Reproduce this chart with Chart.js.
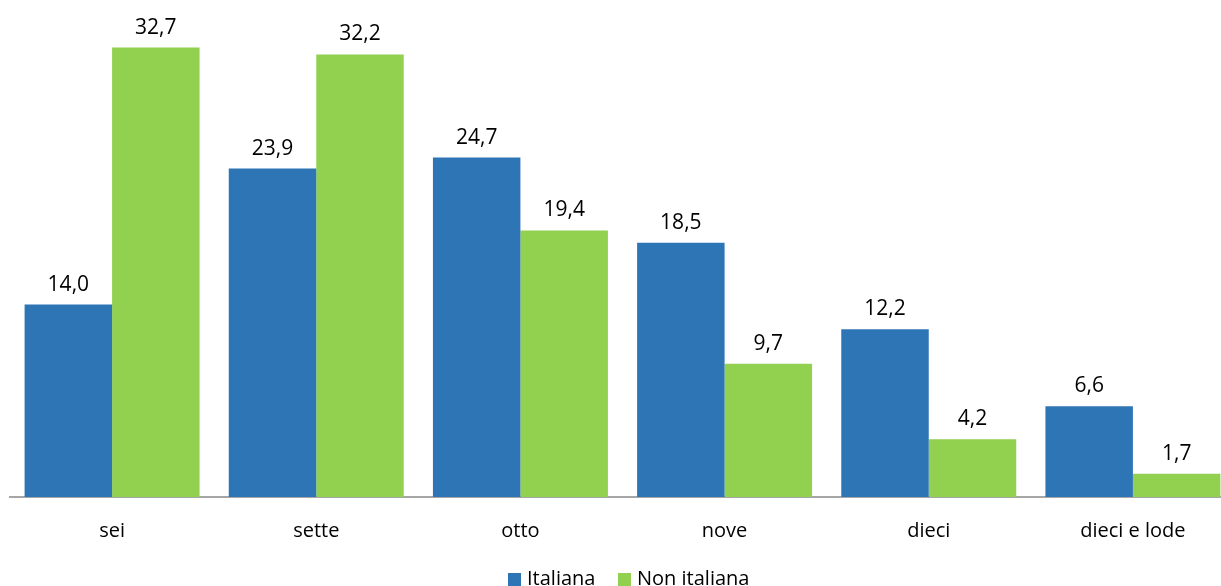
<!DOCTYPE html>
<html>
<head>
<meta charset="utf-8">
<script src="https://cdn.jsdelivr.net/npm/chart.js@4.4.1/dist/chart.umd.min.js"></script>
<style>
  html, body { margin: 0; padding: 0; background: #fff; }
  #wrap { position: relative; width: 1221px; height: 586px; overflow: hidden; }
  #legend { position: absolute; top: 566px; left: 0; font-family: "Open Sans", sans-serif; font-size: 20px; color: #000; }
  .item { position: absolute; white-space: nowrap; line-height: 24px; }
  .box { display: inline-block; width: 13px; height: 13px; margin-right: 6px; vertical-align: -1px; }
</style>
</head>
<body>
<div id="wrap">
  <canvas id="myChart" width="1245" height="586"></canvas>
  <div id="legend"></div>
</div>
<script>
// categories and values
const categories = ['sei', 'sette', 'otto', 'nove', 'dieci', 'dieci e lode'];
const italiana = [14.0, 23.9, 24.7, 18.5, 12.2, 6.6];
const nonItaliana = [32.7, 32.2, 19.4, 9.7, 4.2, 1.7];
const seriesNames = ['Italiana', 'Non italiana'];
const colors = ['#2E75B6', '#92D050'];

// value labels above each bar, Italian decimal comma
const valueLabels = {
    id: 'valueLabels',
    afterDatasetsDraw(chart) {
        const ctx = chart.ctx;
        ctx.save();
        ctx.font = '21px "Open Sans", sans-serif';
        ctx.fillStyle = '#000';
        ctx.textAlign = 'center';
        ctx.textBaseline = 'middle';
        chart.data.datasets.forEach((ds, i) => {
            chart.getDatasetMeta(i).data.forEach((bar, j) => {
                ctx.fillText(ds.data[j].toFixed(1).replace('.', ','), bar.x, bar.y - 20);
            });
        });
        ctx.restore();
    }
};

new Chart(document.getElementById('myChart'), {
    type: 'bar',
    data: {
        labels: categories,
        datasets: [
            { label: seriesNames[0], data: italiana, backgroundColor: colors[0] },
            { label: seriesNames[1], data: nonItaliana, backgroundColor: colors[1] },
        ],
    },
    options: {
        responsive: false,
        animation: false,
        devicePixelRatio: 1,
        layout: { padding: { top: 16, left: 10, right: 10, bottom: 0 } },
        datasets: { bar: { categoryPercentage: 0.857, barPercentage: 1.0 } },
        plugins: { legend: { display: false }, tooltip: { enabled: false } },
        scales: {
            x: {
                grid: { display: false, drawTicks: false },
                border: { color: '#A6A6A6', width: 2 },
                ticks: { color: '#000', padding: 22, font: { family: '"Open Sans", sans-serif', size: 20 } },
                afterFit(scale) { scale.height = 89; },
            },
            y: { display: false, min: 0, max: 35 },
        },
    },
    plugins: [valueLabels],
});

// legend in html, placed like the original
const legend = document.getElementById('legend');
const lefts = [508, 618];
seriesNames.forEach((name, i) => {
    const item = document.createElement('div');
    item.className = 'item';
    item.style.left = lefts[i] + 'px';
    item.innerHTML = '<span class="box" style="background:' + colors[i] + '"></span>' + name;
    legend.appendChild(item);
});
</script>
</body>
</html>
